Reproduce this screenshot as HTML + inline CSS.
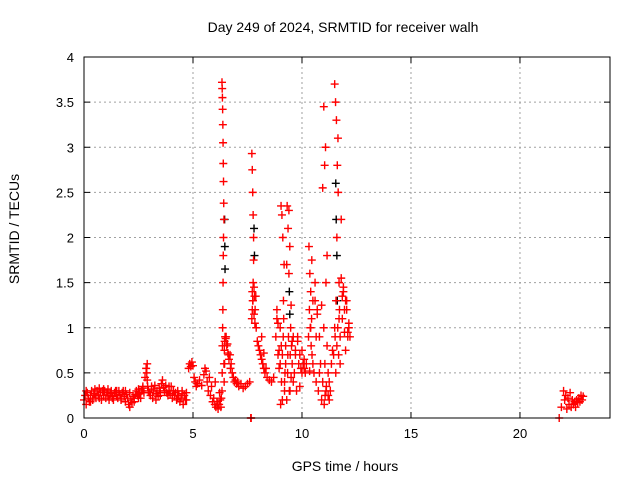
<!DOCTYPE html>
<html><head><meta charset="utf-8"><style>
body{margin:0;background:#fff;}
svg{display:block;font-family:"Liberation Sans",sans-serif;}
</style></head><body>
<svg id="chart" width="640" height="480" viewBox="0 0 640 480">
<text x="343" y="32" font-size="14" text-anchor="middle">Day 249 of 2024, SRMTID for receiver walh</text>
<text x="19" y="229" font-size="14" text-anchor="middle" transform="rotate(-90 19 229)">SRMTID / TECUs</text>
<text x="345" y="471" font-size="14" text-anchor="middle">GPS time / hours</text>
<g id="grid"></g>
<g id="ticks"></g>
<g id="marks"></g>
<rect x="84" y="57" width="526" height="361" fill="none" stroke="#000" stroke-width="1"/>
</svg>
<script>
const xTicks=[0,5,10,15,20];
const yTicks=[0,0.5,1,1.5,2,2.5,3,3.5,4];
const yTickLabels=["0","0.5","1","1.5","2","2.5","3","3.5","4"];
const redTimes=[0,0.05,0.1,0.15,0.2,0.25,0.3,0.35,0.4,0.45,0.5,0.55,0.6,0.65,0.7,0.75,0.8,0.85,0.9,0.95,1,1.05,1.1,1.15,1.2,1.25,1.3,1.35,1.4,1.45,1.5,1.55,1.6,1.65,1.7,1.75,1.8,1.85,1.9,1.95,2,2.05,2.1,2.15,2.2,2.25,2.3,2.35,2.4,2.45,2.5,2.55,2.6,2.65,2.7,2.75,2.8,2.85,2.88,2.9,2.92,2.95,3,3.05,3.1,3.15,3.2,3.25,3.3,3.35,3.4,3.45,3.5,3.55,3.6,3.65,3.7,3.75,3.8,3.85,3.9,3.95,4,4.05,4.1,4.15,4.2,4.25,4.3,4.35,4.4,4.45,4.5,4.55,4.6,4.65,4.7,
4.8,4.85,4.9,4.95,5,5.05,5.1,5.15,5.2,5.3,5.4,5.5,5.55,5.6,5.65,5.7,5.75,5.8,5.85,5.9,5.95,6,6.05,6.1,6.15,6.2,6.25,6.3,
6.33,6.33,6.34,6.34,6.35,6.35,6.36,6.36,6.37,6.37,6.38,6.38,6.39,6.39,6.4,6.4,6.41,6.42,6.42,6.43,6.44,6.45,6.47,6.5,6.55,6.6,6.65,6.7,6.75,6.8,6.85,6.9,6.95,7,7.05,7.1,7.2,7.3,7.4,7.5,7.6,7.65,7.67,
7.7,7.7,7.72,7.72,7.74,7.74,7.76,7.76,7.78,7.78,7.8,7.82,7.85,7.9,7.95,8,8.05,8.1,8.15,8.2,8.25,8.3,8.4,8.5,8.6,8.7,8.8,8.85,8.9,8.95,9,
9.02,9.04,9.06,9.08,9.1,9.12,9.14,9.16,9.18,9.2,9.22,9.25,9.3,9.32,9.34,9.36,9.38,9.4,9.42,9.44,9.46,9.48,9.5,9.52,9.55,9.6,9.65,9.7,9.75,9.8,9.85,9.9,9.95,10,10.05,10.1,10.15,10.2,
10.3,10.32,10.34,10.36,10.38,10.4,10.42,10.44,10.46,10.5,10.55,10.6,10.65,10.7,10.75,10.8,10.85,10.9,10.95,11,11.02,11.04,11.06,11.08,11.1,11.12,11.15,11.2,11.25,11.3,11.35,11.4,
11.45,11.5,11.52,11.54,11.56,11.58,11.6,11.62,11.64,11.66,11.68,11.7,11.72,11.75,11.8,11.85,11.9,11.95,12,12.05,12.1,12.15,12.2,
21.8,21.9,22,22.05,22.1,22.15,22.2,22.25,22.3,22.35,22.4,22.45,22.5,22.55,22.6,22.65,22.7,22.75,22.8,22.85,22.9];
const redValues=[0.2,0.25,0.15,0.28,0.22,0.18,0.25,0.3,0.2,0.27,0.32,0.22,0.3,0.25,0.33,0.28,0.2,0.3,0.25,0.3,0.22,0.28,0.32,0.2,0.27,0.3,0.24,0.2,0.28,0.3,0.25,0.22,0.3,0.26,0.2,0.28,0.3,0.24,0.18,0.26,0.22,0.15,0.12,0.2,0.17,0.24,0.22,0.26,0.3,0.25,0.32,0.27,0.22,0.3,0.35,0.28,0.45,0.55,0.5,0.42,0.35,0.3,0.28,0.25,0.32,0.22,0.3,0.36,0.27,0.3,0.24,0.33,0.28,0.38,0.42,0.34,0.3,0.36,0.28,0.25,0.3,0.27,0.35,0.22,0.3,0.25,0.28,0.2,0.3,0.25,0.18,0.22,0.27,0.15,0.25,0.2,0.28,
0.55,0.6,0.57,0.62,0.58,0.45,0.4,0.35,0.38,0.42,0.36,0.48,0.55,0.52,0.4,0.3,0.45,0.25,0.35,0.18,0.22,0.15,0.12,0.18,0.1,0.15,0.2,0.22,
0.3,3.72,0.5,3.65,0.8,3.55,1.0,3.42,1.2,3.25,1.5,3.05,1.8,2.82,2.0,2.62,2.38,2.2,0.6,0.4,0.75,0.85,0.9,0.88,0.8,0.72,0.65,0.7,0.6,0.5,0.45,0.4,0.42,0.38,0.4,0.35,0.38,0.33,0.35,0.38,0.4,0,0,
1.1,2.93,1.2,2.75,1.3,2.5,1.5,2.25,1.75,2.0,1.45,1.35,1.2,1.0,0.85,0.8,0.75,0.7,0.65,0.6,0.55,0.5,0.45,0.42,0.4,0.45,0.9,1.2,1.05,0.75,0.6,
0.15,2.35,0.4,2.25,0.7,2.0,0.9,1.1,1.7,0.3,0.5,0.8,0.2,2.35,0.5,2.1,0.9,1.6,0.3,1.9,0.7,1.0,0.45,0.8,0.85,0.9,0.5,0.75,0.3,0.85,0.6,0.7,0.55,0.5,0.6,0.55,0.5,0.6,
0.9,1.9,1.2,1.6,1.0,1.4,0.8,1.1,0.7,1.3,0.5,1.5,0.4,1.2,0.3,0.9,0.6,0.2,2.55,3.45,0.15,2.8,0.25,3.0,1.5,0.35,0.8,0.25,0.4,0.3,0.6,0.75,
0.7,3.7,0.9,3.5,1.3,3.3,2.0,2.8,1.0,2.5,0.7,1.5,1.2,0.9,1.55,1.1,1.4,0.95,1.3,1.2,0.9,1.0,0.9,
0,0.12,0.3,0.2,0.25,0.1,0.22,0.15,0.28,0.12,0.2,0.15,0.18,0.12,0.2,0.17,0.22,0.18,0.25,0.2,0.24];
const extraTimes=[0.1,0.3,0.5,0.7,0.9,1.1,1.3,1.5,1.7,1.9,2.1,2.3,2.5,2.7,2.9,3.1,3.3,3.5,3.7,3.9,4.1,4.3,4.5,4.7,
6.02,6.12,6.22,6.28,6.45,6.52,6.58,6.62,6.72,
7.72,7.75,7.8,7.84,7.88,8.15,8.25,8.35,
8.85,8.9,8.95,9.0,9.05,9.1,9.15,9.2,9.25,9.3,9.35,9.4,9.45,9.5,9.55,9.6,9.7,9.8,9.9,10.0,10.1,
10.35,10.4,10.45,10.5,10.6,10.65,10.7,10.8,10.9,10.95,11.0,11.05,11.1,11.15,11.2,11.25,
11.5,11.55,11.6,11.65,11.7,11.75,11.8,11.85,11.9,11.95,12.0,12.05,12.1,12.15];
const extraValues=[0.3,0.18,0.27,0.22,0.32,0.25,0.22,0.3,0.22,0.3,0.28,0.18,0.22,0.33,0.6,0.35,0.2,0.25,0.3,0.35,0.3,0.22,0.3,0.2,
0.4,0.15,0.28,0.12,0.6,0.9,0.82,0.7,0.55,
1.4,1.3,1.15,1.05,1.35,0.9,0.72,0.55,
1.1,0.7,0.55,1.0,0.8,0.2,1.3,0.4,0.6,1.7,0.7,2.3,0.3,1.25,0.6,0.4,0.7,0.9,0.35,0.75,0.65,0.52,
1.0,1.75,0.6,1.3,0.9,1.15,0.5,1.25,0.4,1.0,0.6,0.3,1.8,0.5,0.2,1.0,
0.5,0.8,3.1,1.1,0.6,2.2,1.35,1.45,1.2,0.75,1.3,0.95,1.05,0.85];
const blackTimes=[6.45,6.46,6.47,7.8,7.82,9.42,9.44,11.55,11.57,11.6,11.62];
const blackValues=[2.2,1.9,1.65,2.1,1.8,1.4,1.15,2.6,2.2,1.8,1.3];

const X0=84,X1=610,Y0=418,Y1=57,XMAX=24.13,YMAX=4;
function xs(t){return X0+t/XMAX*(X1-X0);}
function ys(v){return Y0-v/YMAX*(Y0-Y1);}
const NS="http://www.w3.org/2000/svg";
const grid=document.getElementById('grid'),ticks=document.getElementById('ticks'),marks=document.getElementById('marks');
function mk(tag,attrs,parent){const e=document.createElementNS(NS,tag);for(const k in attrs)e.setAttribute(k,attrs[k]);parent.appendChild(e);return e;}
xTicks.forEach(t=>{
  const x=xs(t);
  if(t>0){const g=mk('line',{x1:x,y1:Y1,x2:x,y2:Y0,stroke:'#a0a0a0','stroke-dasharray':'2,3'},grid);
  
  }
  const tk=mk('line',{x1:x,y1:Y0,x2:x,y2:Y0-6,stroke:'#000'},ticks);
  
  
  const tk2=mk('line',{x1:x,y1:Y1,x2:x,y2:Y1+6,stroke:'#000'},ticks);
  
  
  const lb=mk('text',{x:x,y:Y0+20,'font-size':13,'text-anchor':'middle'},ticks);lb.textContent=String(t);
  
  
});
yTicks.forEach((v,i)=>{
  const y=ys(v);
  if(v>0&&v<YMAX){const g=mk('line',{x1:X0,y1:y,x2:X1,y2:y,stroke:'#a0a0a0','stroke-dasharray':'2,3'},grid);
  
  }
  const tk=mk('line',{x1:X0,y1:y,x2:X0+6,y2:y,stroke:'#000'},ticks);
  
  
  const tk2=mk('line',{x1:X1,y1:y,x2:X1-6,y2:y,stroke:'#000'},ticks);
  
  
  const lb=mk('text',{x:X0-10,y:y+5,'font-size':13,'text-anchor':'end'},ticks);lb.textContent=yTickLabels[i];
  
  
});
function plus(t,v,color,name){
  const x=xs(t),y=ys(v);
  const p=mk('path',{d:`M${x-4} ${y}H${x+4}M${x} ${y-4}V${y+4}`,stroke:color,'stroke-width':1.4,fill:'none'},marks);
  
  
}
blackTimes.forEach((t,i)=>plus(t,blackValues[i],'#000000','srmtid-point-alt'));
redTimes.forEach((t,i)=>plus(t,redValues[i],'#ff0000','srmtid-point'));
extraTimes.forEach((t,i)=>plus(t,extraValues[i],'#ff0000','srmtid-point'));
</script>
</body></html>
